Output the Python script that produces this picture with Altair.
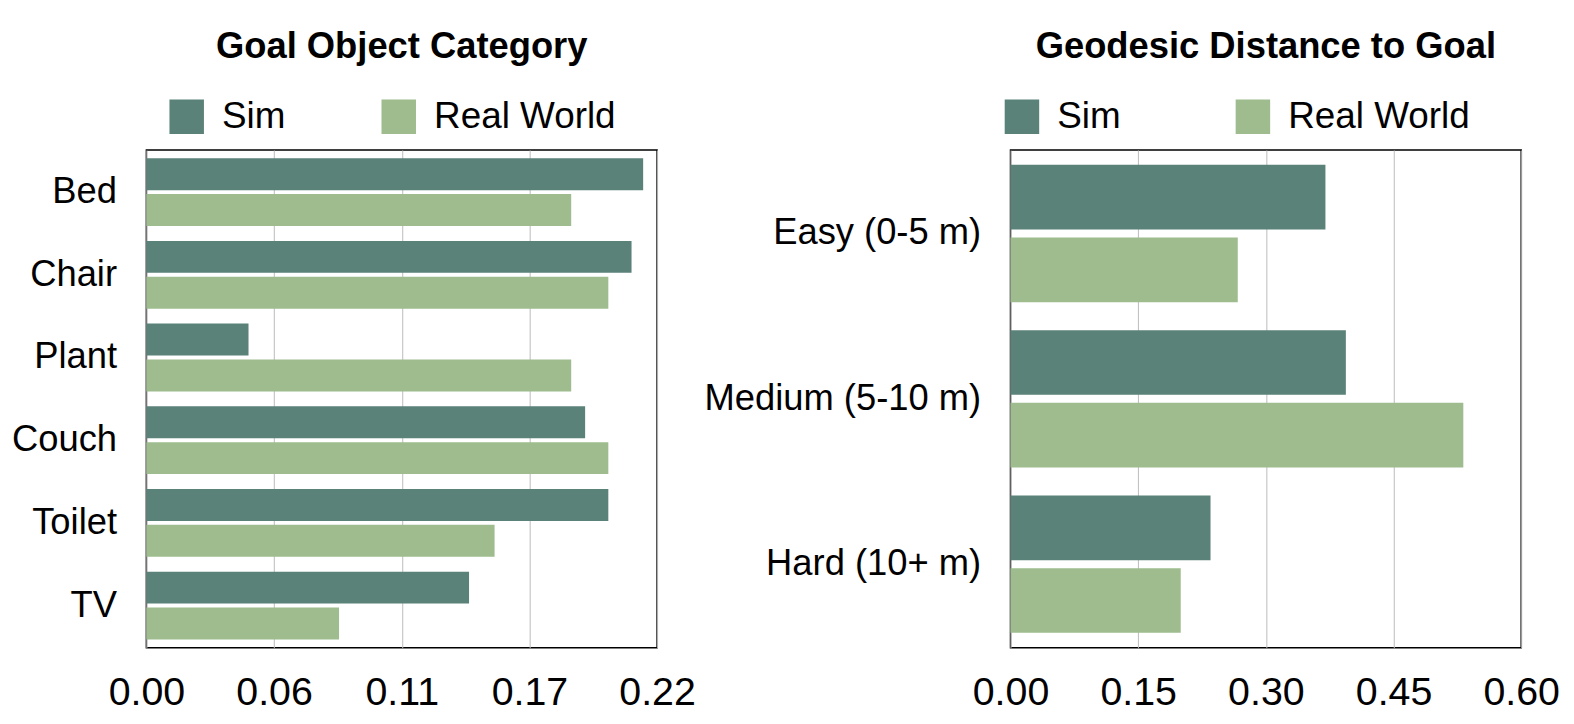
import altair as alt
import pandas as pd

series = ["Sim", "Real World"]
colors = ["#5a8279", "#9ebc8e"]

obj_categories = ["Bed", "Chair", "Plant", "Couch", "Toilet", "TV"]
obj_sim = [0.214, 0.209, 0.044, 0.189, 0.199, 0.139]
obj_real = [0.183, 0.199, 0.183, 0.199, 0.150, 0.083]
obj_ticks = [0.0, 0.055, 0.11, 0.165, 0.22]

dist_categories = ["Easy (0-5 m)", "Medium (5-10 m)", "Hard (10+ m)"]
dist_sim = [0.370, 0.394, 0.235]
dist_real = [0.267, 0.532, 0.200]
dist_ticks = [0.0, 0.15, 0.30, 0.45, 0.60]


def long_df(cats, sim, real):
    rows = []
    for c, s, r in zip(cats, sim, real):
        rows.append({"cat": c, "series": "Sim", "value": s})
        rows.append({"cat": c, "series": "Real World", "value": r})
    return pd.DataFrame(rows)


def panel(df, cats, ticks, title, width, height, pad_in, pad_out, lx, ly, colpad):
    return alt.Chart(
        df,
        title=alt.Title(title, fontSize=36.5, fontWeight="bold", anchor="middle", offset=33, color="black"),
    ).mark_bar().encode(
        y=alt.Y(
            "cat:N", sort=cats, title=None,
            scale=alt.Scale(paddingInner=pad_in, paddingOuter=pad_out),
            axis=alt.Axis(ticks=False, domain=False, labelPadding=30, labelFontSize=36.5,
                          labelColor="black", grid=False, labelLimit=600),
        ),
        yOffset=alt.YOffset("series:N", sort=series, scale=alt.Scale(paddingInner=0.11)),
        x=alt.X(
            "value:Q", title=None,
            scale=alt.Scale(domain=[ticks[0], ticks[-1]], nice=False, zero=True),
            axis=alt.Axis(values=ticks, format=".2f", ticks=False, domain=False, grid=True,
                          gridColor="#bbbbbb", gridWidth=1, labelFontSize=39.5, labelColor="black",
                          labelPadding=26, labelFlush=False),
        ),
        color=alt.Color(
            "series:N", sort=series,
            scale=alt.Scale(domain=series, range=colors),
            legend=alt.Legend(orient="none", legendX=lx, legendY=ly, direction="horizontal",
                              title=None, symbolType="square", symbolSize=1200,
                              symbolStrokeWidth=0, labelFontSize=37, labelColor="black",
                              columnPadding=colpad, labelOffset=17, labelLimit=600),
        ),
    ).properties(width=width, height=height)


left = panel(long_df(obj_categories, obj_sim, obj_real), obj_categories, obj_ticks,
             "Goal Object Category", 513, 500, 0.18, 0.10, 22, -52, 95)
right = panel(long_df(dist_categories, dist_sim, dist_real), dist_categories, dist_ticks,
              "Geodesic Distance to Goal", 513, 500, 0.169, 0.09, -7, -52, 114)

chart = alt.hconcat(left, right, spacing=6).resolve_scale(
    y="independent", x="independent", color="shared", yOffset="independent"
).resolve_legend(color="independent").configure(
    font="Liberation Sans",
    padding={"top": 18, "left": 2, "right": 5, "bottom": 5},
).configure_view(stroke="black", strokeWidth=1.5)

chart.save("out.html", embed_options={"renderer": "svg", "actions": False})
